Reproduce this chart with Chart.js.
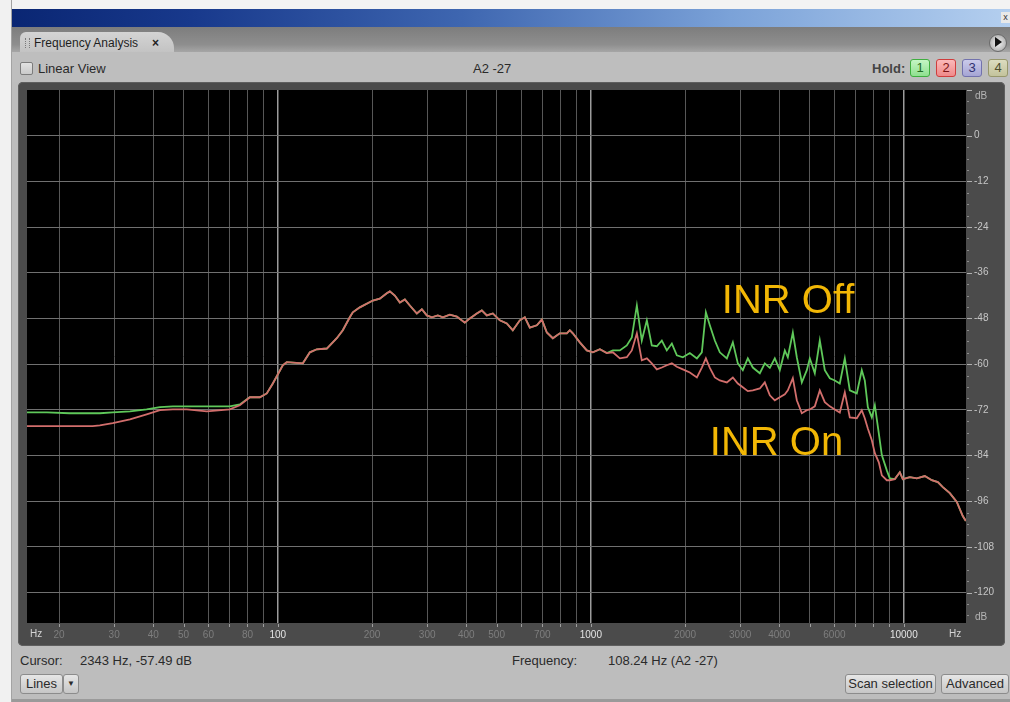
<!DOCTYPE html>
<html>
<head>
<meta charset="utf-8">
<title>Frequency Analysis</title>
<script src="https://cdn.jsdelivr.net/npm/chart.js@4.4.1/dist/chart.umd.min.js"></script>
<style>
  html, body { margin: 0; padding: 0; }
  body {
    width: 1010px; height: 702px; position: relative; overflow: hidden;
    background: #bdbdbd;
    font-family: "Liberation Sans", Arial, sans-serif; font-size: 12px; color: #222;
  }
  .abs { position: absolute; }
  #edgeTop { left: 0; top: 0; width: 1010px; height: 9px; background: #f3f3f3; }
  #edgeLeft { left: 0; top: 0; width: 11px; height: 702px; background: #f1f1f1; border-right: 1px solid #a3a3a3; }
  #titlebar { left: 12px; top: 9px; width: 998px; height: 18px;
    background: linear-gradient(90deg, #0a2673 0%, #18398c 18%, #3e66b0 45%, #7ba2d8 72%, #b4cfef 100%); }
  #closeBox { left: 1001px; top: 12px; width: 9px; height: 11px; background: #e8e8e8; color: #333;
    font-size: 9px; line-height: 11px; text-align: center; }
  #tabstrip { left: 12px; top: 27px; width: 998px; height: 25px;
    background: linear-gradient(#7d7d7d, #8e8e8e 70%, #a6a6a6); }
  #tab { left: 20px; top: 32px; width: 154px; height: 20px;
    background: linear-gradient(#d4d4d4, #c3c3c3); border-radius: 6px 16px 0 0; }
  #grip { left: 25px; top: 38px; width: 3px; height: 10px;
    border-left: 1px dotted #7a7a7a; border-right: 1px dotted #7a7a7a; }
  #tabText { left: 34px; top: 36px; font-size: 12px; color: #1e1e1e; }
  #tabClose { left: 152px; top: 36px; font-size: 12px; font-weight: bold; color: #222; }
  #menuBtn { left: 989px; top: 34px; width: 16px; height: 16px; border-radius: 50%;
    background: radial-gradient(#f4f4f4, #9c9c9c); border: 1px solid #6a6a6a; }
  #menuArrow { left: 995px; top: 37px; width: 0; height: 0;
    border-top: 5px solid transparent; border-bottom: 5px solid transparent; border-left: 7px solid #111; }
  #panelRow { left: 12px; top: 52px; width: 998px; height: 30px; background: #bebebe; }
  #check { left: 20px; top: 62px; width: 11px; height: 11px; background: linear-gradient(#e2e2e2, #cacaca);
    border: 1px solid #7c7c7c; border-radius: 2px; }
  #linearView { left: 38px; top: 61px; font-size: 13px; color: #2a2a2a; }
  #noteName { left: 473px; top: 61px; font-size: 13px; color: #2a2a2a; }
  #holdLabel { left: 872px; top: 61px; font-size: 13px; font-weight: bold; color: #444; }
  .hold { top: 59px; width: 20px; height: 18px; border-radius: 3px; text-align: center;
    line-height: 16px; font-size: 13px; box-sizing: border-box; }
  #frame { left: 18px; top: 82px; width: 987px; height: 564px; background: #4b4b4b;
    border-radius: 5px; box-shadow: inset 0 0 0 1px #5f5f5f; }
  #frame canvas { position: absolute; left: 0; top: 0; }
  .status { top: 653px; font-size: 13px; color: #2a2a2a; }
  .btn { top: 674px; height: 20px; box-sizing: border-box; border: 1px solid #8c8c8c; border-radius: 3px;
    background: linear-gradient(#e6e6e6, #c6c6c6); font-size: 13px; line-height: 18px; text-align: center; color: #2a2a2a; }
  #bottomEdge { left: 12px; top: 699px; width: 998px; height: 3px; background: #9a9a9a; }
</style>
</head>
<body>
<div class="abs" id="edgeTop"></div>
<div class="abs" id="edgeLeft"></div>
<div class="abs" id="titlebar"></div>
<div class="abs" id="closeBox">x</div>
<div class="abs" id="tabstrip"></div>
<div class="abs" id="tab"></div>
<div class="abs" id="grip"></div>
<div class="abs" id="tabText">Frequency Analysis</div>
<div class="abs" id="tabClose">×</div>
<div class="abs" id="menuBtn"></div>
<div class="abs" id="menuArrow"></div>
<div class="abs" id="panelRow"></div>
<div class="abs" id="check"></div>
<div class="abs" id="linearView">Linear View</div>
<div class="abs" id="noteName">A2 -27</div>
<div class="abs" id="holdLabel">Hold:</div>
<div class="abs hold" style="left:910px;background:linear-gradient(#c4f5c4,#8fe08f);border:1px solid #3fae3f;color:#236b23;">1</div>
<div class="abs hold" style="left:936px;background:linear-gradient(#fbb9b9,#ef8a8a);border:1px solid #cf3d3d;color:#7a1515;">2</div>
<div class="abs hold" style="left:962px;background:linear-gradient(#cacaea,#a5a5d4);border:1px solid #7272ad;color:#303070;">3</div>
<div class="abs hold" style="left:988px;background:linear-gradient(#dcdcc0,#c3c39c);border:1px solid #97976c;color:#4e4e2e;">4</div>

<div class="abs" id="frame"><canvas id="spectrum" width="987" height="564"></canvas></div>

<div class="abs status" style="left:20px;">Cursor:</div>
<div class="abs status" style="left:80px;">2343 Hz, -57.49 dB</div>
<div class="abs status" style="left:512px;">Frequency:</div>
<div class="abs status" style="left:608px;">108.24 Hz (A2 -27)</div>
<div class="abs btn" style="left:20px;width:43px;">Lines</div>
<div class="abs btn" style="left:63px;width:16px;font-size:8px;">▼</div>
<div class="abs btn" style="left:845px;width:91px;">Scan selection</div>
<div class="abs btn" style="left:941px;width:68px;">Advanced</div>
<div class="abs" id="bottomEdge"></div>

<script>
// Spectrum sample frequencies (Hz), shared by both traces
const freqHz = [
  15.8, 18.3, 21.6, 25.6, 27.0, 29.7, 33.7, 38.1, 42.0, 46.2, 51.2, 59.3, 70.2, 75.6, 81.4,
  87.6, 92.2, 96.4, 103.7, 106.8, 120.2, 126.6, 133.2, 143.4, 154.3, 161.3, 169.8, 173.6, 182.8,
  201.2, 211.8, 222.9, 228.0, 236.5, 245.4, 254.6, 264.1, 278.1, 288.5, 299.2, 310.5, 324.5, 336.7,
  354.5, 373.2, 395.7, 410.6, 432.3, 448.5, 465.3, 486.3, 512.0, 539.0, 563.4, 593.2, 615.4, 638.5,
  672.3, 697.5, 723.6, 756.2, 796.1, 838.1, 856.9, 876.0, 922.3, 970.9, 1015, 1069, 1125,
  1176, 1238, 1303, 1352, 1403, 1455, 1510, 1566, 1625, 1686, 1749, 1815, 1883, 1968, 2072, 2182,
  2263, 2331, 2400, 2490, 2583, 2720, 2843, 2949, 3059, 3174, 3293, 3467, 3596, 3732, 3871, 4016,
  4167, 4260, 4420, 4551, 4722, 4899, 5008, 5195, 5390, 5592, 5802, 6020, 6244, 6478, 6721, 7075,
  7340, 7504, 7674, 7903, 8079, 8320, 8505, 8824, 9021, 9359, 9710, 9926, 10452, 11004, 11670,
  12288, 12843, 13323, 14028, 14766, 15430, 15780
];

// Level with noise reduction bypassed (dB)
const inrOffDb = [
  -72.7, -72.7, -72.9, -72.9, -72.9, -72.7, -72.4, -71.9, -71.3, -71.1, -71.1, -71.1, -71.1, -70.6, -68.7,
  -68.7, -67.7, -65.1, -60.3, -59.5, -59.8, -56.9, -56.1, -55.9, -53.2, -51.1, -47.7, -46.4, -45.1,
  -43.3, -42.8, -41.4, -40.9, -42.0, -43.8, -43.0, -44.6, -46.7, -45.6, -47.2, -47.7, -47.2, -47.7,
  -47.0, -47.5, -49.1, -48.0, -46.7, -45.9, -47.2, -46.7, -48.5, -49.3, -51.1, -48.5, -47.7, -50.4,
  -49.8, -48.3, -51.7, -53.2, -51.9, -51.9, -51.1, -51.9, -54.3, -56.4, -56.9, -56.1, -57.1,
  -56.4, -56.4, -55.1, -53.0, -44.6, -53.8, -48.5, -55.1, -55.3, -53.8, -56.4, -54.6, -57.7, -58.2, -57.1, -58.5,
  -56.9, -46.4, -49.8, -53.8, -56.9, -58.5, -54.3, -59.8, -61.6, -58.5, -60.9, -62.4, -59.8, -61.0, -58.5, -61.6,
  -56.4, -58.2, -51.7, -58.2, -64.8, -61.6, -58.5, -62.4, -53.8, -61.6, -63.7, -64.3, -65.1, -58.5, -66.9, -67.7,
  -61.6, -64.3, -71.3, -74.0, -70.8, -78.2, -83.9, -87.9, -90.0, -90.2, -88.4, -90.2, -89.7, -90.0, -89.4,
  -90.5, -91.0, -92.3, -93.9, -96.2, -99.9, -101.2
];

// Level with noise reduction engaged (dB)
const inrOnDb = [
  -76.3, -76.3, -76.3, -76.3, -76.1, -75.5, -74.5, -73.2, -72.1, -71.9, -71.9, -72.4, -71.9, -70.8, -68.7,
  -68.7, -67.7, -65.1, -60.3, -59.5, -59.8, -56.9, -56.1, -55.9, -53.2, -51.1, -47.7, -46.4, -45.1,
  -43.3, -42.8, -41.4, -40.9, -42.0, -43.8, -43.0, -44.6, -46.7, -45.6, -47.2, -47.7, -47.2, -47.7,
  -47.0, -47.5, -49.1, -48.0, -46.7, -45.9, -47.2, -46.7, -48.5, -49.3, -51.1, -48.5, -47.7, -50.4,
  -49.8, -48.3, -51.7, -53.2, -51.9, -51.9, -51.1, -51.9, -54.3, -56.4, -56.9, -56.1, -57.1,
  -56.9, -58.5, -58.2, -56.4, -51.9, -59.0, -58.5, -59.8, -61.4, -60.9, -60.3, -59.8, -60.7, -61.4, -62.2, -63.5,
  -60.9, -58.5, -61.0, -63.5, -64.3, -64.8, -63.5, -65.1, -66.1, -67.1, -66.9, -66.4, -64.8, -68.2, -69.5, -68.7,
  -67.9, -66.9, -63.7, -69.5, -72.9, -72.1, -71.9, -71.1, -66.9, -70.0, -71.1, -71.9, -72.7, -67.4, -74.0, -74.2,
  -72.1, -74.2, -76.9, -80.0, -83.4, -85.8, -89.2, -90.5, -90.5, -90.2, -88.4, -90.2, -89.7, -90.0, -89.4,
  -90.5, -91.0, -92.3, -93.9, -96.2, -99.9, -101.2
];

// Axis ticks
const xGridHz = [20, 30, 40, 50, 60, 70, 80, 90, 100, 200, 300, 400, 500, 600, 700, 800, 900,
                 1000, 2000, 3000, 4000, 5000, 6000, 7000, 8000, 9000, 10000];
const xLabelHz = [20, 30, 40, 50, 60, 80, 100, 200, 300, 400, 500, 700, 1000, 2000, 3000, 4000, 6000, 10000];
const xMajorHz = [100, 1000, 10000];
const yTicksDb = [0, -12, -24, -36, -48, -60, -72, -84, -96, -108, -120];

const seriesNames = ['INR Off', 'INR On'];

const toPoints = (vals) => freqHz.map((f, i) => ({ x: f, y: vals[i] }));

// Black plotting field, tick marks, unit captions and trace captions
const spectrumDecor = {
  id: 'spectrumDecor',
  beforeDraw(chart) {
    const { ctx, chartArea: a } = chart;
    ctx.save();
    ctx.fillStyle = '#000';
    ctx.fillRect(a.left, a.top, a.right - a.left, a.bottom - a.top);
    ctx.restore();
  },
  afterDatasetsDraw(chart) {
    const { ctx, scales } = chart;
    const x = scales.x, y = scales.y;
    ctx.save();
    ctx.fillStyle = '#f2b705';
    ctx.font = '40px "Liberation Sans", Arial, sans-serif';
    ctx.textBaseline = 'alphabetic';
    ctx.textAlign = 'left';
    ctx.fillText(seriesNames[0], x.getPixelForValue(2621), y.getPixelForValue(-46.7));
    ctx.fillText(seriesNames[1], x.getPixelForValue(2399), y.getPixelForValue(-83.9));
    ctx.restore();
  },
  afterDraw(chart) {
    const { ctx, chartArea: a, scales } = chart;
    const x = scales.x, y = scales.y;
    ctx.save();
    // small ticks under the frequency grid lines
    ctx.fillStyle = '#a0a0a0';
    xGridHz.forEach(f => {
      const px = Math.round(x.getPixelForValue(f));
      ctx.fillRect(px, a.bottom + 1, 1, 3);
    });
    // level ruler ticks on the right edge
    for (let d = 12; d >= -128; d -= 3) {
      const py = Math.round(y.getPixelForValue(d)) + 0.5;
      const major = d % 12 === 0;
      ctx.fillStyle = major ? '#b0b0b0' : '#8a8a8a';
      ctx.fillRect(a.right + 1, py - 0.5, major ? 5 : 2, 1);
    }
    // unit captions
    ctx.font = '10px "Liberation Sans", Arial, sans-serif';
    ctx.textBaseline = 'middle';
    ctx.fillStyle = '#d4d4d4';
    ctx.textAlign = 'left';
    ctx.fillText('Hz', a.left + 3, a.bottom + 11);
    ctx.fillText('Hz', a.right - 17, a.bottom + 11);
    ctx.fillStyle = '#b4b4b4';
    ctx.fillText('dB', a.right + 9, a.top + 6);
    ctx.fillText('dB', a.right + 9, a.bottom - 6);
    ctx.restore();
  }
};

new Chart(document.getElementById('spectrum'), {
  type: 'line',
  data: {
    datasets: [
      // the engaged trace is painted over the bypassed one
      { label: seriesNames[0], data: toPoints(inrOffDb), borderColor: '#5fc85a', borderWidth: 1.8,
        pointRadius: 0, tension: 0, fill: false, order: 2 },
      { label: seriesNames[1], data: toPoints(inrOnDb), borderColor: '#d26e6c', borderWidth: 1.8,
        pointRadius: 0, tension: 0, fill: false, order: 1 }
    ]
  },
  options: {
    responsive: false,
    devicePixelRatio: 1,
    animation: false,
    parsing: false,
    layout: { padding: { left: 9, top: 8, right: 0, bottom: 0 } },
    plugins: { legend: { display: false }, tooltip: { enabled: false } },
    scales: {
      x: {
        type: 'logarithmic',
        min: 15.8, max: 15800,
        afterBuildTicks: (s) => { s.ticks = xGridHz.map(v => ({ value: v })); },
        afterFit: (s) => { s.height = 23; s.paddingLeft = 0; s.paddingRight = 0; },
        border: { display: false },
        grid: {
          drawTicks: false,
          color: (c) => (c.tick && xMajorHz.includes(c.tick.value)) ? '#9c9c9c' : '#575757',
          lineWidth: (c) => (c.tick && xMajorHz.includes(c.tick.value)) ? 1.5 : 1
        },
        ticks: {
          autoSkip: false, maxRotation: 0, minRotation: 0, padding: 6,
          font: { family: '"Liberation Sans", Arial, sans-serif', size: 10 },
          color: (c) => (c.tick && xMajorHz.includes(c.tick.value)) ? '#e4e4e4' : '#7e7e7e',
          callback: (v) => xLabelHz.includes(v) ? String(v) : ''
        }
      },
      y: {
        type: 'linear',
        position: 'right',
        min: -128, max: 12,
        afterBuildTicks: (s) => { s.ticks = yTicksDb.map(v => ({ value: v })); },
        afterFit: (s) => { s.width = 39; s.paddingTop = 0; s.paddingBottom = 0; },
        border: { display: false },
        grid: { drawTicks: false, color: '#707070', lineWidth: 1 },
        ticks: {
          padding: 8,
          font: { family: '"Liberation Sans", Arial, sans-serif', size: 10 },
          color: '#c6c6c6',
          callback: (v) => String(v)
        }
      }
    }
  },
  plugins: [spectrumDecor]
});
</script>
</body>
</html>
